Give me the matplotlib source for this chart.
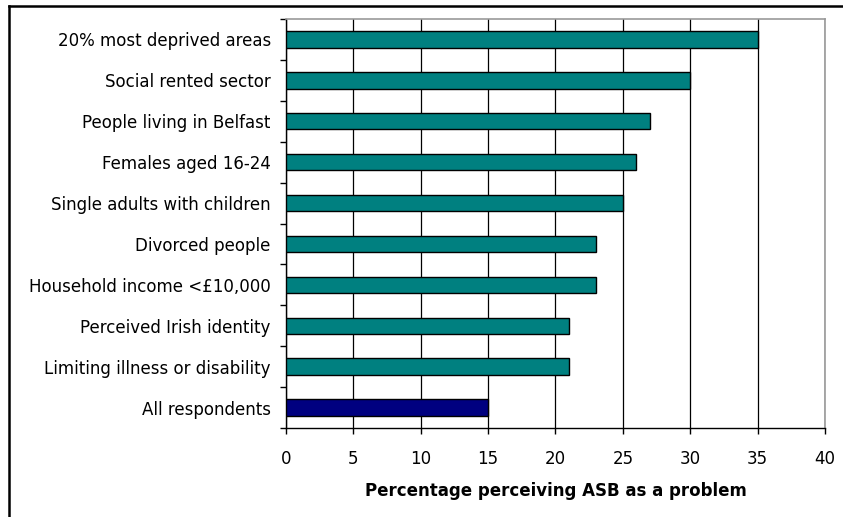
import matplotlib
matplotlib.use('Agg')
import matplotlib.pyplot as plt
from matplotlib.lines import Line2D
import numpy as np

groups = ['20% most deprived areas', 'Social rented sector', 'People living in Belfast',
          'Females aged 16-24', 'Single adults with children', 'Divorced people',
          'Household income <\u00a310,000', 'Perceived Irish identity',
          'Limiting illness or disability', 'All respondents']
pct = [35, 30, 27, 26, 25, 23, 23, 21, 21, 15]
bar_colors = ['#008080'] * 9 + ['#000080']
xticks = [0, 5, 10, 15, 20, 25, 30, 35, 40]

fig = plt.figure(figsize=(8.43, 5.17), dpi=100)
ax = fig.add_axes([0.3393, 0.1721, 0.6393, 0.7911])

ypos = np.arange(len(groups))
ax.barh(ypos, pct, height=0.4, color=bar_colors, edgecolor='black', linewidth=1, zorder=3)

ax.set_xlim(0, 40)
ax.set_ylim(len(groups) - 0.5, -0.5)
ax.set_xticks(xticks)
ax.set_xticklabels([str(t) for t in xticks], fontsize=12)
ax.set_yticks(ypos)
ax.set_yticklabels(groups, fontsize=12)
ax.set_yticks(np.arange(len(groups) + 1) - 0.5, minor=True)

ax.tick_params(axis='y', which='major', length=0, pad=11)
ax.tick_params(axis='y', which='minor', length=4, width=1, direction='out')
ax.tick_params(axis='x', length=4, width=1, direction='out', pad=12)

ax.grid(axis='x', color='black', linewidth=0.9, zorder=0)
for s in ['top', 'right']:
    ax.spines[s].set_color('#999999')
    ax.spines[s].set_linewidth(1.2)
for s in ['left', 'bottom']:
    ax.spines[s].set_color('black')
    ax.spines[s].set_linewidth(1)

ax.set_xlabel('Percentage perceiving ASB as a problem', fontsize=12, fontweight='bold', labelpad=10)

# outer frame, left and top edges
fig.add_artist(Line2D([9 / 843, 9 / 843], [0, 1 - 6 / 517], transform=fig.transFigure, color='black', lw=1.8))
fig.add_artist(Line2D([9 / 843, 1], [1 - 6 / 517, 1 - 6 / 517], transform=fig.transFigure, color='black', lw=1.8))

fig.savefig('out.png', dpi=100)
